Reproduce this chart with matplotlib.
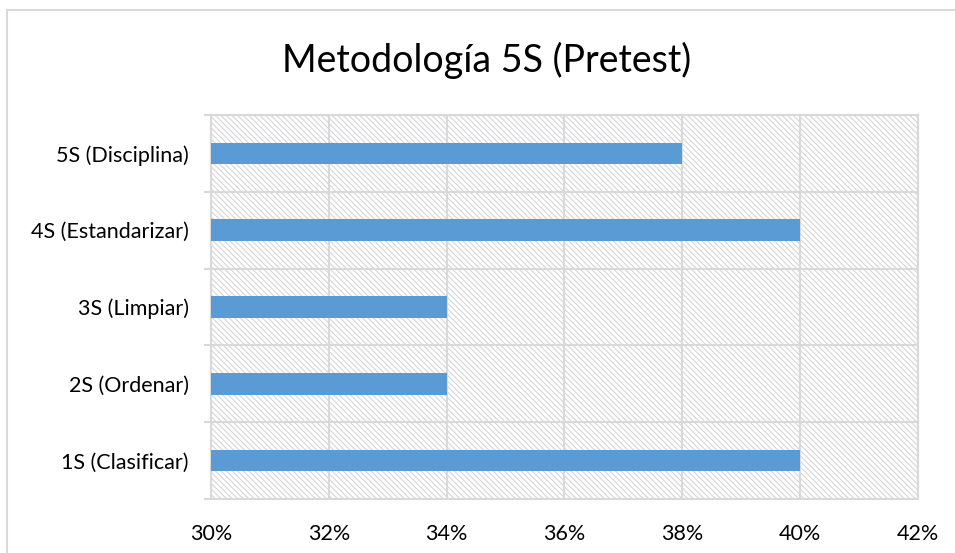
import matplotlib.pyplot as plt
from matplotlib.patches import Rectangle
from matplotlib.ticker import FuncFormatter, MultipleLocator

categories = ['1S (Clasificar)', '2S (Ordenar)', '3S (Limpiar)', '4S (Estandarizar)', '5S (Disciplina)']
values = [40, 34, 34, 40, 38]
x_ticks = [30, 32, 34, 36, 38, 40, 42]

GRID = '#d9d9d9'
BAR = '#5b9bd5'

plt.rcParams['font.family'] = ['Lato', 'DejaVu Sans']
plt.rcParams['hatch.linewidth'] = 0.8
plt.rcParams['hatch.color'] = '#d6d6d6'

fig = plt.figure(figsize=(9.55, 5.53), dpi=100)
ax = fig.add_axes([211 / 955, 1 - 499 / 553, (918 - 211) / 955, (499 - 115) / 553])

# hatched plot background
bg = Rectangle((0, 0), 1, 1, transform=ax.transAxes, facecolor='white',
               edgecolor='#d6d6d6', hatch='\\' * 6, linewidth=0, zorder=0)
ax.add_patch(bg)

ypos = list(range(len(categories)))
ax.barh(ypos, [v - x_ticks[0] for v in values], left=x_ticks[0], height=0.28,
        color=BAR, zorder=3)

ax.set_xlim(x_ticks[0], x_ticks[-1])
ax.set_ylim(-0.5, len(categories) - 0.5)
ax.set_xticks(x_ticks)
ax.xaxis.set_major_formatter(FuncFormatter(lambda v, p: f'{v:.0f}%'))
ax.set_yticks(ypos)
ax.set_yticklabels(categories)
ax.yaxis.set_minor_locator(MultipleLocator(1, offset=0.5))

ax.grid(axis='x', which='major', color=GRID, linewidth=1.5, zorder=1)
ax.grid(axis='y', which='minor', color=GRID, linewidth=1.5, zorder=1)
ax.set_axisbelow(True)
for s in ax.spines.values():
    s.set_color(GRID)
    s.set_linewidth(1.5)

ax.tick_params(axis='both', which='major', length=0, labelsize=15.5, colors='black')
ax.tick_params(axis='y', which='minor', length=5, width=1.5, color=GRID)
ax.tick_params(axis='x', pad=18)
ax.tick_params(axis='y', which='major', pad=16)

fig.text(487 / 955, 1 - 60 / 553, 'Metodología 5S (Pretest)', fontsize=27,
         ha='center', va='center')

# outer chart frame
frame = Rectangle((7 / 955, -0.05), 1.1, 1 - 10 / 553 + 0.05, transform=fig.transFigure,
                  fill=False, edgecolor=GRID, linewidth=1.5)
fig.patches.append(frame)

fig.savefig('out.png', dpi=100)
